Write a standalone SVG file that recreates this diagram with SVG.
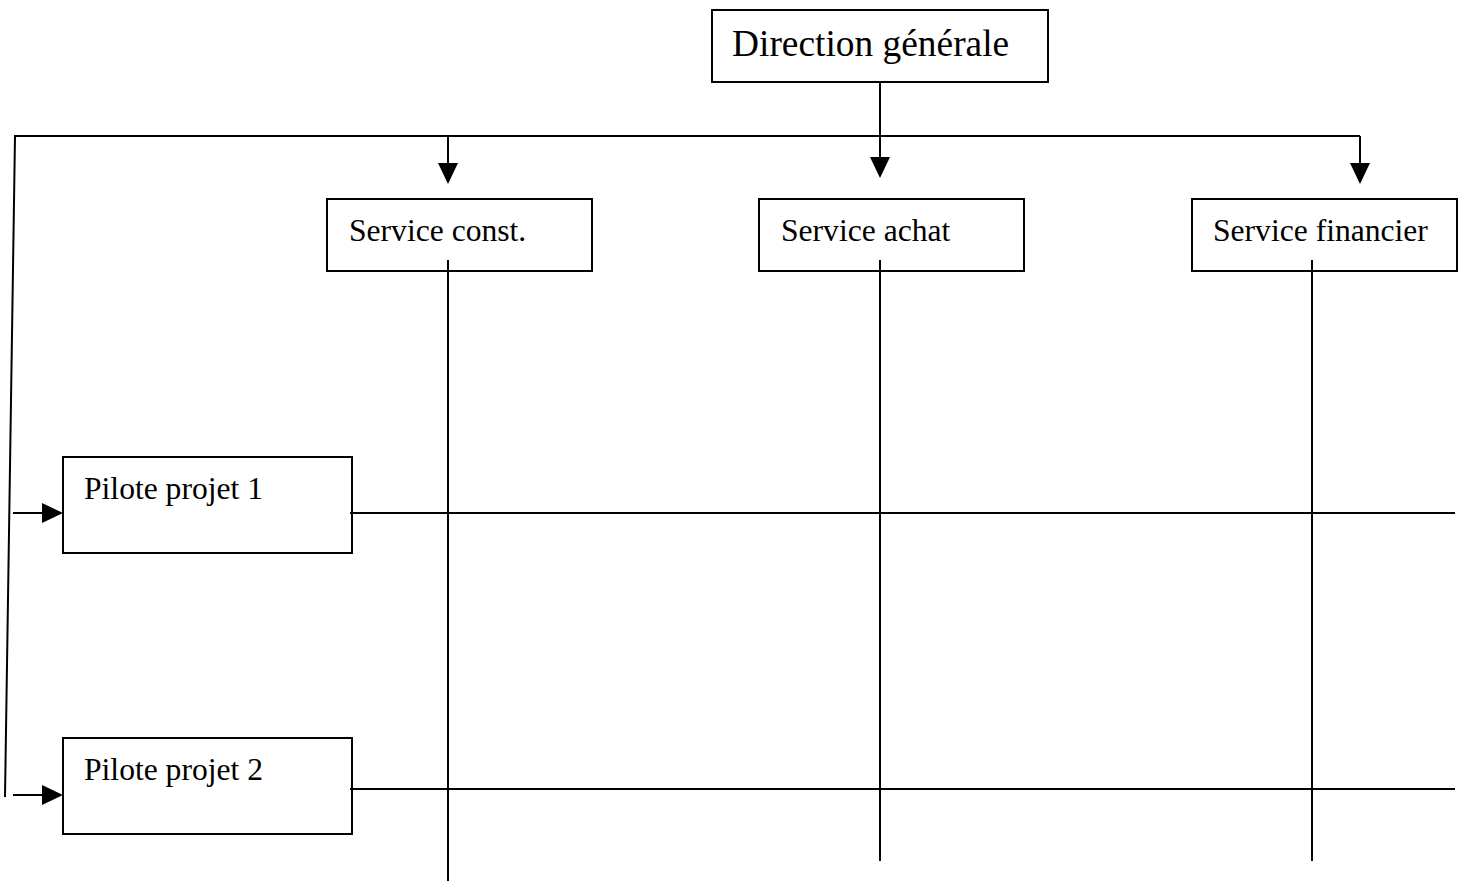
<svg xmlns="http://www.w3.org/2000/svg" width="1463" height="881" viewBox="0 0 1463 881">
<defs>
<style>
.box{fill:#fff;stroke:#000;stroke-width:2}
.t{font-family:"Liberation Serif","Times New Roman",serif;fill:#000;font-size:31.6px}
.big{font-size:37.4px}
.ln{fill:none;stroke:#000;stroke-width:2}
.hd{fill:#000}
</style>
</defs>
<rect width="1463" height="881" fill="#fff"/>
<g id="connectors">
<line class="ln" x1="880" y1="82" x2="880" y2="136"/>
<polyline class="ln" points="5,797 15,136 1360,136"/>
<path d="M448,136 V163" class="ln"/><path class="hd" d="M438,163 L458,163 L448,184 z"/>
<path d="M880,136 V157" class="ln"/><path class="hd" d="M870,157 L890,157 L880,178 z"/>
<path d="M1360,136 V163" class="ln"/><path class="hd" d="M1350,163 L1370,163 L1360,184 z"/>
<path d="M13,513 H42" class="ln"/><path class="hd" d="M42,503 L63,513 L42,523 z"/>
<path d="M13,795 H42" class="ln"/><path class="hd" d="M42,785 L63,795 L42,805 z"/>
</g>
<g id="n-direction">
<rect class="box" x="712" y="10" width="336" height="72"/>
<text class="t big" x="732" y="56">Direction générale</text>
</g>
<g id="n-const">
<rect class="box" x="327" y="199" width="265" height="72"/>
<text class="t" x="349" y="241">Service const.</text>
</g>
<g id="n-achat">
<rect class="box" x="759" y="199" width="265" height="72"/>
<text class="t" x="781" y="241">Service achat</text>
</g>
<g id="n-financier">
<rect class="box" x="1192" y="199" width="265" height="72"/>
<text class="t" x="1213" y="241">Service financier</text>
</g>
<g id="n-pilote1">
<rect class="box" x="63" y="457" width="289" height="96"/>
<text class="t" x="84" y="499">Pilote projet 1</text>
</g>
<g id="n-pilote2">
<rect class="box" x="63" y="738" width="289" height="96"/>
<text class="t" x="84" y="780">Pilote projet 2</text>
</g>
<g id="grid">
<line class="ln" x1="448" y1="260" x2="448" y2="881"/>
<line class="ln" x1="880" y1="260" x2="880" y2="861"/>
<line class="ln" x1="1312" y1="260" x2="1312" y2="861"/>
<line class="ln" x1="350" y1="513" x2="1455" y2="513"/>
<line class="ln" x1="350" y1="789" x2="1455" y2="789"/>
</g>
</svg>
